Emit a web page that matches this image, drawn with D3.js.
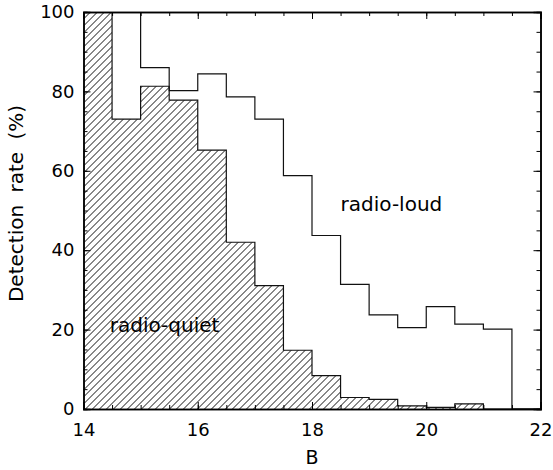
<!DOCTYPE html>
<html>
<head>
    <title>Detection rate vs B</title>
    <script src="https://d3js.org/d3.v7.min.js"></script>
    <style>
        body { margin: 0; background: #fff; }
        text { font-family: "DejaVu Sans", sans-serif; fill: #000; }
    </style>
</head>
<body>
    <div id="chart"></div>

    <script>
        // data: left edge of each 0.5 mag bin
        var binEdges = [14, 14.5, 15, 15.5, 16, 16.5, 17, 17.5, 18, 18.5, 19, 19.5, 20, 20.5, 21, 21.5];
        var binWidth = 0.5;
        var radioLoud = [100, 100, 86, 80.2, 84.4, 78.6, 73, 58.8, 43.7, 31.4, 23.7, 20.5, 25.8, 21.4, 20.1, 0];
        var radioQuiet = [100, 73, 81.3, 77.8, 65.2, 42, 31.1, 14.8, 8.4, 2.9, 2.4, 0.8, 0.4, 1.3, 0, 0];
        var xTicks = [14, 16, 18, 20, 22];
        var yTicks = [0, 20, 40, 60, 80, 100];

        var margin = {top: 12, right: 12.5, bottom: 61, left: 83.5},
            width = 553 - margin.left - margin.right,
            height = 470 - margin.top - margin.bottom;

        var svg = d3.select("#chart")
                    .append("svg")
                    .attr("width", 553)
                    .attr("height", 470)
                    .append("g")
                    .attr("transform", "translate(" + margin.left + "," + margin.top + ")");

        var x = d3.scaleLinear().domain([14, 22]).range([0, width]);
        var y = d3.scaleLinear().domain([0, 100]).range([height, 0]);

        // hatch pattern for the radio-quiet histogram
        var defs = svg.append("defs");
        var pat = defs.append("pattern")
            .attr("id", "hatch")
            .attr("patternUnits", "userSpaceOnUse")
            .attr("width", 7)
            .attr("height", 7);
        pat.append("path")
            .attr("d", "M-1,1 L1,-1 M0,7 L7,0 M6,8 L8,6")
            .attr("stroke", "#111")
            .attr("stroke-width", 1);

        // turn bins into step points
        function steps(vals) {
            var pts = [];
            binEdges.forEach(function(b, i) {
                pts.push([b, vals[i]]);
                pts.push([b + binWidth, vals[i]]);
            });
            return pts;
        }

        var line = d3.line()
            .x(function(d) { return x(d[0]); })
            .y(function(d) { return y(d[1]); });

        var area = d3.area()
            .x(function(d) { return x(d[0]); })
            .y0(height)
            .y1(function(d) { return y(d[1]); });

        var clip = defs.append("clipPath").attr("id", "clip");
        clip.append("rect").attr("width", width).attr("height", height);

        var plot = svg.append("g").attr("clip-path", "url(#clip)");

        plot.append("path")
            .datum(steps(radioQuiet))
            .attr("d", area)
            .attr("fill", "url(#hatch)");

        plot.append("path")
            .datum(steps(radioQuiet))
            .attr("d", line)
            .attr("fill", "none")
            .attr("stroke", "#111")
            .attr("stroke-width", 1.2);

        plot.append("path")
            .datum(steps(radioLoud))
            .attr("d", line)
            .attr("fill", "none")
            .attr("stroke", "#111")
            .attr("stroke-width", 1.2);

        // axes with inward ticks on all four sides
        var minorX = d3.range(14, 22.01, 0.5),
            minorY = d3.range(0, 100.1, 5);

        var xb = svg.append("g").attr("transform", "translate(0," + height + ")");
        xb.call(d3.axisBottom(x).tickValues(xTicks).tickSize(-7).tickPadding(14).tickFormat(d3.format("d")));
        svg.append("g").attr("transform", "translate(0," + height + ")")
           .call(d3.axisBottom(x).tickValues(minorX).tickSize(-4).tickFormat(""));

        svg.append("g").call(d3.axisTop(x).tickValues(xTicks).tickSize(-7).tickFormat(""));
        svg.append("g").call(d3.axisTop(x).tickValues(minorX).tickSize(-4).tickFormat(""));

        svg.append("g").call(d3.axisLeft(y).tickValues(yTicks).tickSize(-7).tickPadding(9).tickFormat(d3.format("d")));
        svg.append("g").call(d3.axisLeft(y).tickValues(minorY).tickSize(-4).tickFormat(""));

        svg.append("g").attr("transform", "translate(" + width + ",0)")
           .call(d3.axisRight(y).tickValues(yTicks).tickSize(-7).tickFormat(""));
        svg.append("g").attr("transform", "translate(" + width + ",0)")
           .call(d3.axisRight(y).tickValues(minorY).tickSize(-4).tickFormat(""));

        svg.selectAll(".domain").attr("stroke", "#000").attr("stroke-width", 1.5);
        svg.selectAll(".tick line").attr("stroke", "#000").attr("stroke-width", 1);
        svg.selectAll(".tick text")
           .style("font-family", "'DejaVu Sans', sans-serif")
           .style("font-size", "18px");

        // labels
        svg.append("text")
           .attr("x", width / 2)
           .attr("y", height + 55)
           .style("text-anchor", "middle")
           .style("font-size", "19px")
           .text("B");

        svg.append("text")
           .attr("transform", "rotate(-90)")
           .attr("x", -(height / 2) + 7)
           .attr("y", -61)
           .style("text-anchor", "middle")
           .style("font-size", "20px")
           .style("word-spacing", "6px")
           .text("Detection rate (%)");

        svg.append("text")
           .attr("x", x(14.46))
           .attr("y", y(19.4))
           .style("font-size", "20px")
           .text("radio-quiet");

        svg.append("text")
           .attr("x", x(18.5))
           .attr("y", y(49.8))
           .style("font-size", "20px")
           .text("radio-loud");
    </script>
</body>
</html>
